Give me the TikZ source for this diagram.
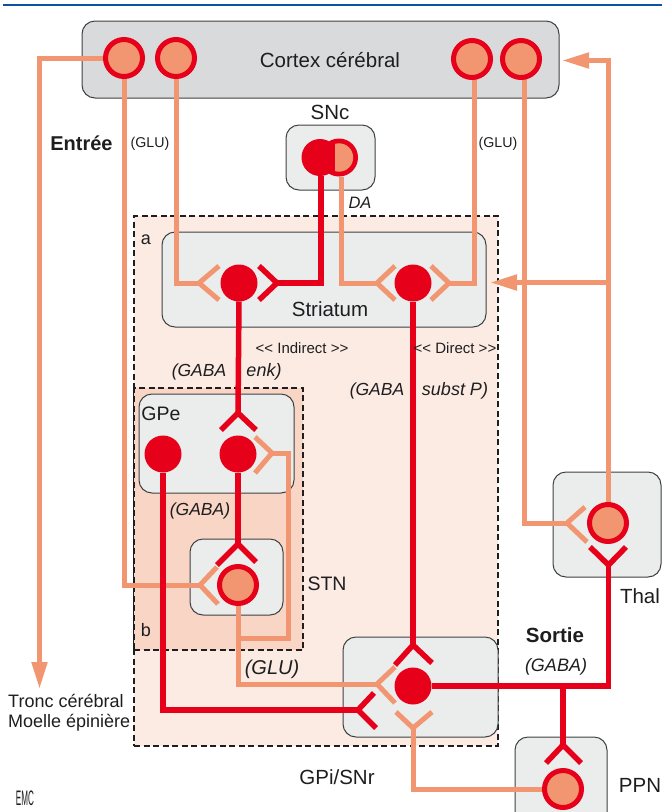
\documentclass[tikz,border=0pt]{standalone}
\usepackage{fontspec}
\setmainfont{Liberation Sans}
\usetikzlibrary{arrows.meta}
\definecolor{orline}{HTML}{F29672}
\definecolor{redline}{HTML}{E60019}
\definecolor{greybox}{HTML}{D9DADC}
\definecolor{lightbox}{HTML}{EBEDED}
\definecolor{rega}{HTML}{FCEBE3}
\definecolor{regb}{HTML}{F8D5C4}
\definecolor{topblue}{HTML}{0B52A0}
\definecolor{txt}{HTML}{1E1E20}
\pgfdeclarelayer{back}
\pgfdeclarelayer{wires}
\pgfsetlayers{back,wires,main}
\newcommand{\fs}[1]{\fontsize{#1}{#1}\selectfont}
\tikzset{
  region/.style={draw=txt,dash pattern=on 6pt off 3.5pt,line width=2.3pt,inner sep=0,outer sep=0},
  brainbox/.style={draw=txt!85,line width=1pt,rounded corners=13pt,fill=lightbox,inner sep=0,outer sep=0},
  solidn/.style={circle,fill=redline,minimum size=37pt,inner sep=0,outer sep=0},
  ringn/.style={circle,fill=orline,draw=redline,line width=5pt,minimum size=37pt,inner sep=0,outer sep=0},
  orw/.style={draw=orline,line width=5pt},
  rdw/.style={draw=redline,line width=5.5pt},
  lab/.style={text=txt,inner sep=0,font=\fs{20.5}},
  small/.style={text=txt,inner sep=0,font=\fs{15}},
  ital/.style={text=txt,inner sep=0,font=\fs{17.5}\itshape},
  orarrow/.style={-{Triangle[length=27pt,width=15pt,color=orline]}},
}
\begin{document}
\begin{tikzpicture}[x=1pt,y=-1pt]
\useasboundingbox (0,0) rectangle (662,812);
% neurons
\node[ringn] (c1) at (124,58) {};
\node[ringn] (c2) at (176,58) {};
\node[ringn] (c3) at (472,59) {};
\node[ringn] (c4) at (521,59) {};
\node[circle,fill=redline,minimum size=38pt,inner sep=0,outer sep=0] (snco) at (339,157.5) {};
\node[solidn] (sncr) at (320,157.5) {};
\begin{scope}
\clip (335,130) rectangle (360,190);
\fill[orline] (339,157.5) circle (14.2pt);
\end{scope}
\node[solidn] (s1) at (239,283) {};
\node[solidn] (s2) at (413,283) {};
\node[solidn] (g1) at (163,454) {};
\node[solidn] (g2) at (238,454) {};
\node[ringn] (stn) at (238,585) {};
\node[solidn] (gpi) at (413,686) {};
\node[ringn] (thal) at (608,523) {};
\node[ringn] (ppn) at (563,789) {};
% synapse tips and ends
\coordinate (ya) at (199,283); \coordinate (ya1) at (219,266); \coordinate (ya2) at (219,300);
\coordinate (yb) at (277,283); \coordinate (yb1) at (259,266); \coordinate (yb2) at (259,300);
\coordinate (yc) at (377,283); \coordinate (yc1) at (395,266); \coordinate (yc2) at (395,300);
\coordinate (yd) at (449,283); \coordinate (yd1) at (431,266); \coordinate (yd2) at (431,300);
\coordinate (ye) at (238,413); \coordinate (ye1) at (221,430); \coordinate (ye2) at (256,430);
\coordinate (yf) at (272,453); \coordinate (yf1) at (255,437); \coordinate (yf2) at (255,473);
\coordinate (yg) at (238,544); \coordinate (yg1) at (217,565); \coordinate (yg2) at (256,562);
\coordinate (yh) at (200,585); \coordinate (yh1) at (217,567); \coordinate (yh2) at (218,604);
\coordinate (yi) at (567,523); \coordinate (yi1) at (585,507); \coordinate (yi2) at (587,542);
\coordinate (yj) at (608.5,565); \coordinate (yj1) at (590,547); \coordinate (yj2) at (626,547);
\coordinate (yk) at (413,645); \coordinate (yk1) at (395,665); \coordinate (yk2) at (432,663);
\coordinate (yl) at (377,684); \coordinate (yl1) at (395,667); \coordinate (yl2) at (395,703);
\coordinate (ym) at (358,710); \coordinate (ym1) at (374,693); \coordinate (ym2) at (376,728);
\coordinate (yn) at (413,728); \coordinate (yn1) at (396,712); \coordinate (yn2) at (432,712);
\coordinate (yo) at (563,745); \coordinate (yo1) at (546,763); \coordinate (yo2) at (581,763);
\coordinate (tipdown) at (39.5,689);
\coordinate (tipcortex) at (562,60.5);
\coordinate (tipstr) at (490,282.5);
\begin{pgfonlayer}{back}
\draw[topblue,line width=2pt] (3,5) -- (662,5);
\node[region,fill=rega,minimum width=364pt,minimum height=530pt] (rega) at (316,481) {};
\node[region,fill=regb,minimum width=169pt,minimum height=262pt] (regb) at (218.5,519) {};
\node[brainbox,fill=greybox,minimum width=477pt,minimum height=77pt] (cortex) at (320.5,59.5) {};
\node[brainbox,minimum width=89pt,minimum height=65pt] (snc) at (330.5,157.5) {};
\node[brainbox,minimum width=324pt,minimum height=95pt] (striatum) at (324,279.5) {};
\node[brainbox,minimum width=155pt,minimum height=99pt] (gpe) at (216.5,443.5) {};
\node[brainbox,minimum width=93pt,minimum height=76pt] (stnb) at (236.5,577) {};
\node[brainbox,minimum width=155pt,minimum height=100pt] (gpib) at (420.5,687) {};
\node[brainbox,minimum width=108pt,minimum height=105pt] (thalb) at (607,524.5) {};
\node[brainbox,minimum width=92pt,minimum height=90pt] (ppnb) at (561,782) {};
\end{pgfonlayer}
\begin{pgfonlayer}{wires}
% orange wires
\draw[orw,orarrow] (c1.west) -- (39.5,58) -- (tipdown);
\draw[orw] (c1.south) -- (c1.south |- yh) -- (yh);
\draw[orw] (yh1) -- (yh) -- (yh2);
\draw[orw] (c2.south) -- (c2.south |- ya) -- (ya);
\draw[orw] (ya1) -- (ya) -- (ya2);
\draw[orw] (c3.south) ++(2,0) |- (yd);
\draw[orw] (yd1) -- (yd) -- (yd2);
\draw[orw] (snco.south) ++(2.5,0) |- (yc);
\draw[orw] (yc1) -- (yc) -- (yc2);
\draw[orw] (c4.south) ++(3,0) |- (yi);
\draw[orw] (yi1) -- (yi) -- (yi2);
\draw[orw,orarrow] (thal.north) -- (thal.north |- tipcortex) -- (tipcortex);
\draw[orw,orarrow] (thal.north |- tipstr) -- (tipstr);
\draw[orw] (stn.south) -- (stn.south |- yl) -- (yl);
\draw[orw] (yl1) -- (yl) -- (yl2);
\draw[orw] (stn.south |- 0,638) -- (288,638) |- (yf);
\draw[orw] (yf1) -- (yf) -- (yf2);
\draw[orw] (ppn.west) -- (yn |- ppn.west) -- (yn);
\draw[orw] (yn1) -- (yn) -- (yn2);
% red wires
\draw[rdw] (sncr.south) ++(1,0) |- (yb);
\draw[rdw] (yb1) -- (yb) -- (yb2);
\draw[rdw] (s1.south) -- (ye);
\draw[rdw] (ye1) -- (ye) -- (ye2);
\draw[rdw] (g2.south) -- (yg);
\draw[rdw] (yg1) -- (yg) -- (yg2);
\draw[rdw] (s2.south) -- (yk);
\draw[rdw] (yk1) -- (yk) -- (yk2);
\draw[rdw] (g1.south) -- (g1.south |- ym) -- (ym);
\draw[rdw] (ym1) -- (ym) -- (ym2);
\draw[rdw] (gpi.east) -| (yj);
\draw[rdw] (yj1) -- (yj) -- (yj2);
\draw[rdw] (563,686) -- (yo);
\draw[rdw] (yo1) -- (yo) -- (yo2);
\end{pgfonlayer}
% labels
\node[lab] (tcortex) at (330,60) {Cortex cérébral};
\node[lab] (tsnc) at (330,112) {SNc};
\node[lab,font=\fs{20}\bfseries] (tentree) at (81.5,143) {Entrée};
\node[small,font=\fs{14.2}] (tglu1) at (150,144) {(GLU)};
\node[small,font=\fs{14.2}] (tglu2) at (498,144) {(GLU)};
\node[ital,font=\fs{16.5}\itshape] (tda) at (360,203) {DA};
\node[lab,font=\fs{18}] (ta) at (146,240) {a};
\node[lab] (tstr) at (330,309) {Striatum};
\node[small] (tind) at (302,348) {<{}< Indirect >{}>};
\node[small] (tdir) at (455,348) {<{}< Direct >{}>};
\node[ital] (tg1) at (199,372) {(GABA};
\node[ital,font=\fs{18}\itshape] (tenk) at (264,372) {enk)};
\node[ital] (tg2) at (377,391) {(GABA};
\node[ital,font=\fs{18}\itshape] (tsub) at (455,391) {subst P)};
\node[lab,font=\fs{19.5}] (tgpe) at (161,414) {GPe};
\node[ital] (tg3) at (200,511) {(GABA)};
\node[lab,font=\fs{19.5}] (tstn) at (327,584) {STN};
\node[lab,font=\fs{18}] (tb) at (146,630) {b};
\node[ital,font=\fs{20}\itshape] (tglu3) at (272,669) {(GLU)};
\node[lab,font=\fs{20.5}\bfseries] (tsor) at (555,635) {Sortie};
\node[ital,font=\fs{18}\itshape] (tg4) at (556,667) {(GABA)};
\node[lab] (tthal) at (640,596) {Thal};
\node[lab] (tgpi) at (337,777) {GPi/SNr};
\node[lab] (tppn) at (640,785) {PPN};
\node[lab,font=\fs{18},anchor=west] (ttr) at (8,701) {Tronc cérébral};
\node[lab,font=\fs{18},anchor=west] (tmo) at (8,723) {Moelle épinière};
\node[lab,font=\fs{14},xscale=.58,yscale=1.5] (temc) at (25,798) {EMC};
\end{tikzpicture}
\end{document}
